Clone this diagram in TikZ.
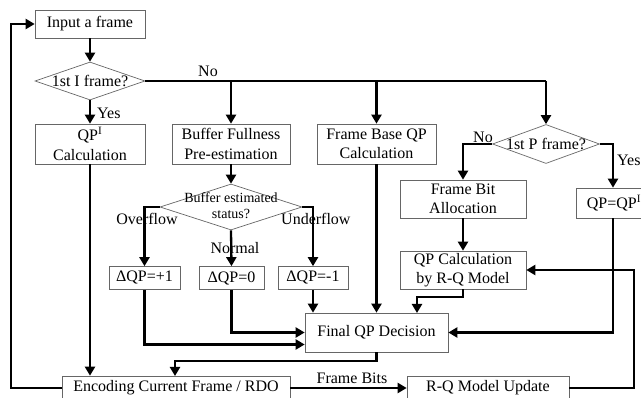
\documentclass[tikz,border=0pt]{standalone}
\usepackage{fontspec}
\setmainfont{Liberation Serif}
\usetikzlibrary{shapes.geometric,arrows.meta}
\begin{document}
\begin{tikzpicture}[x=1pt,y=-1pt,
  every node/.style={font=\fontsize{16}{19.5}\selectfont},
  box/.style={draw=black!60, line width=0.7pt, rectangle, align=center, inner sep=0pt},
  dia/.style={draw=black!60, line width=0.7pt, diamond, inner sep=0pt},
  conn/.style={line width=2.3pt, -{Triangle[length=9pt,width=10pt]}},
  plain/.style={line width=2.3pt},
  lbl/.style={inner sep=0pt}]
\path[use as bounding box, clip] (0,0) rectangle (641,398);

% process boxes
\node[box, minimum width=110pt, minimum height=28pt] (input) at (90,24) {Input a frame};
\node[box, minimum width=110pt, minimum height=40pt] (qpi) at (90,144) {QP$^{\mathrm{I}}$\\Calculation};
\node[box, minimum width=118pt, minimum height=40pt] (buf) at (231,144) {Buffer Fullness\\Pre-estimation};
\node[box, minimum width=119pt, minimum height=40pt] (fbq) at (376.5,144) {Frame Base QP\\Calculation};
\node[box, minimum width=126pt, minimum height=38pt] (fba) at (463,199) {Frame Bit\\Allocation};
\node[box, minimum width=76pt, minimum height=30pt] (qpeq) at (614,203) {QP=QP$^{\mathrm{I}}$};
\node[box, minimum width=71pt, minimum height=23pt] (dp1) at (144.5,278) {ΔQP=+1};
\node[box, minimum width=65pt, minimum height=23pt] (dp0) at (231.5,278) {ΔQP=0};
\node[box, minimum width=70pt, minimum height=23pt] (dm1) at (313,278) {ΔQP=-1};
\node[box, minimum width=126pt, minimum height=38pt] (qprq) at (463,270) {QP Calculation\\by R-Q Model};
\node[box, minimum width=143pt, minimum height=39pt] (final) at (376.5,332.5) {Final QP Decision};
\node[box, minimum width=228pt, minimum height=24pt] (enc) at (176,388) {Encoding Current Frame / RDO};
\node[box, minimum width=162pt, minimum height=24pt] (rqu) at (488,388) {R-Q Model Update};

% decisions
\node[dia, minimum width=110pt, minimum height=38pt] (d1) at (90,81) {};
\node at (d1) {1st I frame?};
\node[dia, minimum width=107pt, minimum height=39pt] (d2) at (546,144) {};
\node at (d2) {1st P frame?};
\node[dia, minimum width=142pt, minimum height=46pt] (d3) at (231,207) {};
\node[align=center, font=\fontsize{14}{16}\selectfont] at (231,206) {Buffer estimated\\status?};

% junction points
\coordinate (nb) at (231,81);
\coordinate (nf) at (376.5,81);
\coordinate (ne) at (546,81);

% connectors
\draw[conn] (input) -- (d1);
\draw[conn] (d1) -- (qpi);
\draw[plain] (d1.east) -- (ne);
\draw[conn] (ne) -- (d2);
\draw[conn] (nb) -- (buf);
\draw[conn] (nf) -- (fbq);
\draw[conn] (qpi.south) -- (qpi.south |- enc.north);
\draw[conn] (buf) -- (d3);
\draw[conn] (d3.west) -| (dp1.north);
\draw[conn] (d3.south) -- (dp0.north);
\draw[conn] (d3.east) -| (dm1.north);
\draw[conn] (dm1.south) -- (dm1.south |- final.north);
\draw[conn] (dp0.south) |- (final.west);
\draw[conn] (dp1.south) |- ([yshift=-12pt]final.west);
\draw[conn] (fbq) -- (final);
\draw[conn] (d2.west) -| (fba.north);
\draw[conn] (d2.east) -| (qpeq.north -| 613,0);
\draw[conn] (fba) -- (qprq);
\draw[conn] (qprq.south) -- ++(0,8) -| (417,313);
\draw[conn] (qpeq.south -| 613,0) |- (final.east);
\draw[conn] (final.south) -- ++(0,8.5) -| (175,376);
\draw[conn] (enc.east) -- (rqu.west);
\draw[conn] (rqu.east) -- (634,388) |- (qprq.east);
\draw[conn] (enc.west) -- (11,388) |- (input.west);

% branch labels
\node[lbl] at (208,71) {No};
\node[lbl, anchor=west] at (97,113) {Yes};
\node[lbl] at (147,219) {Overflow};
\node[lbl] at (235,248) {Normal};
\node[lbl, anchor=west] at (281,219) {Underflow};
\node[lbl] at (483,137) {No};
\node[lbl, anchor=west] at (617,160) {Yes};
\node[lbl] at (352,378) {Frame Bits};
\end{tikzpicture}
\end{document}
